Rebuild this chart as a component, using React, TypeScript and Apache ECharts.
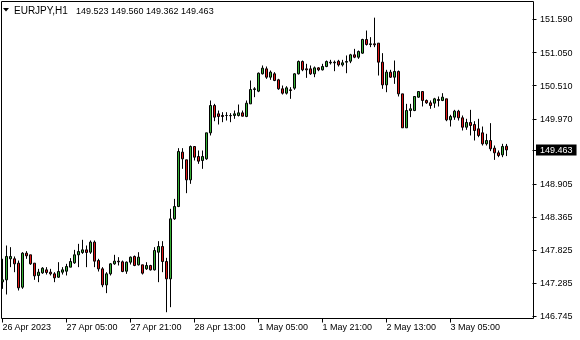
import React, { useEffect, useRef } from 'react';
import * as echarts from 'echarts';

const symbolName = 'EURJPY,H1';

const opens = [
  147.310, 147.343, 147.686, 147.686, 147.615, 147.223, 147.778, 147.751, 147.615, 147.414,
  147.457, 147.506, 147.468, 147.441, 147.386, 147.468, 147.484, 147.550, 147.620, 147.751,
  147.789, 147.832, 147.794, 147.958, 147.658, 147.522, 147.261, 147.441, 147.604, 147.648,
  147.637, 147.484, 147.631, 147.724, 147.588, 147.588, 147.522, 147.577, 147.506, 147.794,
  147.887, 147.642, 147.359, 148.338, 148.539, 149.426, 149.301, 148.974, 149.518, 149.355,
  149.290, 149.317, 149.741, 150.187, 150.051, 150.024, 150.024, 150.024, 150.024, 150.024,
  150.067, 150.008, 150.214, 150.448, 150.421, 150.704, 150.785, 150.649, 150.704, 150.606,
  150.459, 150.388, 150.443, 150.470, 150.704, 150.905, 150.785, 150.785, 150.704, 150.801,
  150.769, 150.823, 150.894, 150.883, 150.910, 150.850, 150.894, 150.910, 151.014, 150.975,
  151.041, 151.264, 151.182, 151.193, 151.204, 150.894, 150.524, 150.731, 150.649, 150.742,
  150.377, 149.823, 150.105, 150.105, 150.323, 150.415, 150.269, 150.231, 150.225, 150.285,
  150.269, 150.296, 149.953, 149.997, 150.095, 149.986, 149.833, 149.910, 149.877, 149.806,
  149.741, 149.562, 149.616, 149.491, 149.415, 149.382, 149.523
];
const highs = [
  147.686, 147.903, 147.876, 147.724, 147.658, 147.794, 147.811, 147.751, 147.615, 147.522,
  147.550, 147.550, 147.522, 147.468, 147.631, 147.550, 147.604, 147.697, 147.832, 147.930,
  147.996, 147.903, 147.985, 147.985, 147.686, 147.550, 147.468, 147.615, 147.751, 147.713,
  147.658, 147.642, 147.724, 147.740, 147.794, 147.588, 147.631, 147.588, 147.876, 147.974,
  147.974, 147.702, 148.501, 148.664, 149.491, 149.491, 149.301, 149.534, 149.518, 149.453,
  149.453, 149.741, 150.269, 150.214, 150.105, 150.078, 150.078, 150.062, 150.105, 150.203,
  150.105, 150.269, 150.595, 150.486, 150.725, 150.840, 150.823, 150.758, 150.731, 150.622,
  150.513, 150.502, 150.486, 150.714, 150.921, 150.921, 150.867, 150.840, 150.823, 150.812,
  150.867, 150.921, 150.932, 150.921, 150.932, 150.932, 151.003, 151.030, 151.111, 151.084,
  151.275, 151.410, 151.302, 151.620, 151.204, 151.041, 150.769, 150.769, 150.921, 150.758,
  150.377, 150.214, 150.214, 150.334, 150.415, 150.415, 150.285, 150.269, 150.312, 150.334,
  150.388, 150.296, 150.035, 150.116, 150.116, 150.024, 149.970, 150.116, 149.931, 149.970,
  149.844, 149.725, 149.899, 149.534, 149.453, 149.562, 149.560
];
const lows = [
  147.196, 147.104, 147.550, 147.468, 147.169, 147.196, 147.686, 147.588, 147.343, 147.305,
  147.441, 147.430, 147.414, 147.305, 147.376, 147.430, 147.414, 147.550, 147.604, 147.550,
  147.767, 147.550, 147.767, 147.550, 147.479, 147.223, 147.126, 147.414, 147.588, 147.577,
  147.468, 147.441, 147.593, 147.566, 147.577, 147.430, 147.506, 147.495, 147.495, 147.305,
  147.468, 146.815, 146.897, 148.322, 148.529, 149.154, 148.757, 148.909, 149.290, 149.235,
  149.154, 149.301, 149.698, 149.931, 149.877, 149.915, 149.942, 149.915, 149.970, 150.008,
  150.008, 149.997, 150.214, 150.323, 150.405, 150.693, 150.622, 150.606, 150.584, 150.443,
  150.366, 150.366, 150.296, 150.443, 150.693, 150.747, 150.638, 150.687, 150.649, 150.747,
  150.758, 150.812, 150.856, 150.747, 150.823, 150.823, 150.714, 150.878, 150.959, 150.948,
  151.030, 151.166, 151.139, 151.139, 150.676, 150.459, 150.404, 150.638, 150.540, 150.334,
  149.823, 149.823, 149.997, 150.095, 150.312, 150.171, 150.214, 150.133, 150.149, 150.171,
  150.258, 149.931, 149.844, 149.953, 149.942, 149.779, 149.790, 149.698, 149.616, 149.670,
  149.534, 149.534, 149.442, 149.300, 149.344, 149.344, 149.362
];
const closes = [
  147.343, 147.724, 147.724, 147.604, 147.212, 147.778, 147.735, 147.604, 147.408, 147.468,
  147.533, 147.463, 147.441, 147.376, 147.479, 147.506, 147.561, 147.642, 147.751, 147.805,
  147.832, 147.789, 147.958, 147.648, 147.522, 147.261, 147.441, 147.604, 147.648, 147.637,
  147.479, 147.631, 147.713, 147.577, 147.713, 147.452, 147.577, 147.506, 147.822, 147.887,
  147.642, 147.359, 148.338, 148.539, 149.437, 149.317, 148.974, 149.518, 149.344, 149.279,
  149.355, 149.741, 150.187, 149.997, 150.008, 150.008, 150.024, 150.020, 150.051, 150.067,
  150.013, 150.225, 150.448, 150.459, 150.714, 150.796, 150.649, 150.731, 150.595, 150.459,
  150.388, 150.475, 150.432, 150.704, 150.905, 150.769, 150.769, 150.704, 150.801, 150.769,
  150.823, 150.905, 150.883, 150.894, 150.850, 150.883, 150.905, 151.014, 150.975, 151.068,
  151.264, 151.182, 151.193, 151.177, 150.894, 150.524, 150.731, 150.649, 150.742, 150.377,
  149.823, 150.105, 150.133, 150.334, 150.415, 150.269, 150.231, 150.187, 150.296, 150.269,
  150.323, 149.953, 150.008, 150.095, 149.986, 149.833, 149.910, 149.861, 149.779, 149.698,
  149.562, 149.616, 149.480, 149.415, 149.371, 149.518, 149.463
];

const totalSlots = 133;
const tickEvery = 16;
const xTickLabels = [
  '26 Apr 2023', '27 Apr 05:00', '27 Apr 21:00', '28 Apr 13:00',
  '1 May 05:00', '1 May 21:00', '2 May 13:00', '3 May 05:00'
];
const yTickValues = [151.59, 151.05, 150.51, 149.97, 148.905, 148.365, 147.825, 147.285, 146.745];
const yMin = 146.7123;
const yMax = 151.8836;

export default function App() {
  const ref = useRef<HTMLDivElement>(null);
  useEffect(() => {
    const chart = echarts.init(ref.current!, null, { renderer: 'svg' });
    const n = opens.length;
    const last = n - 1;
    const cats = Array.from({ length: totalSlots }, (_, i) => String(i));
    const data = opens.map((o, i) => [o, closes[i], lows[i], highs[i]]);
    const font = '"Liberation Sans", Arial, sans-serif';
    const showTick = (i: number) => i % tickEvery === 0 && i / tickEvery < xTickLabels.length;
    const header = [opens[last], highs[last], lows[last], closes[last]].map((v) => v.toFixed(3)).join(' ');

    chart.setOption({
      animation: false,
      grid: {
        left: 0.5,
        top: 1.5,
        width: 532,
        height: 317,
        show: false,
        containLabel: false,
        outerBoundsMode: 'none',
      },
      xAxis: {
        type: 'category',
        data: cats,
        boundaryGap: true,
        axisLine: { show: false },
        axisTick: {
          show: true,
          alignWithLabel: true,
          length: 4,
          interval: (i: number) => showTick(i),
          lineStyle: { color: '#000' },
        },
        axisLabel: {
          interval: (i: number) => showTick(i),
          formatter: (v: string) => xTickLabels[Number(v) / tickEvery] ?? '',
          align: 'left',
          color: '#000',
          fontSize: 9,
          fontFamily: font,
          margin: 4,
        },
        splitLine: { show: false },
      },
      yAxis: [
        {
          type: 'value',
          position: 'right',
          min: yMin,
          max: yMax,
          axisLine: { show: false },
          splitLine: { show: false },
          axisTick: { show: true, length: 4, customValues: yTickValues, lineStyle: { color: '#000' } },
          axisLabel: {
            customValues: yTickValues,
            formatter: (v: number) => v.toFixed(3),
            color: '#000',
            fontSize: 9,
            fontFamily: font,
            margin: 7.5,
          },
        },
        {
          type: 'value',
          position: 'right',
          min: yMin,
          max: yMax,
          axisLine: { show: false },
          splitLine: { show: false },
          axisTick: { show: true, length: 4, customValues: [closes[last]], lineStyle: { color: '#000' } },
          axisLabel: {
            customValues: [closes[last]],
            formatter: (v: number) => v.toFixed(3),
            color: '#fff',
            backgroundColor: '#000',
            padding: [1, 4, 1, 4],
            fontSize: 9,
            fontFamily: font,
            margin: 3.5,
          },
        },
      ],
      series: [
        {
          type: 'candlestick',
          data,
          barWidth: 2,
          itemStyle: {
            color: '#35b035',
            color0: '#e01515',
            borderColor: '#000',
            borderColor0: '#000',
            borderColorDoji: '#000',
            borderWidth: 1,
          },
        },
      ],
      graphic: [
        {
          type: 'rect',
          silent: true,
          z: 100,
          shape: { x: 1.5, y: 1.5, width: 532, height: 317 },
          style: { fill: 'none', stroke: '#000', lineWidth: 1 },
        },
        {
          type: 'polygon',
          silent: true,
          shape: { points: [[3, 8], [9, 8], [6, 11.5]] },
          style: { fill: '#000' },
        },
        {
          type: 'text',
          silent: true,
          x: 14,
          y: 10.5,
          style: { text: symbolName, fontSize: 10, fontFamily: font, fill: '#000', verticalAlign: 'middle' },
        },
        {
          type: 'text',
          silent: true,
          x: 76,
          y: 10.5,
          style: { text: header, fontSize: 9, fontFamily: font, fill: '#000', verticalAlign: 'middle' },
        },
      ],
    });
    return () => chart.dispose();
  }, []);
  return <div ref={ref} style={{ position: 'fixed', left: 0, top: 0, width: 580, height: 340 }} />;
}
